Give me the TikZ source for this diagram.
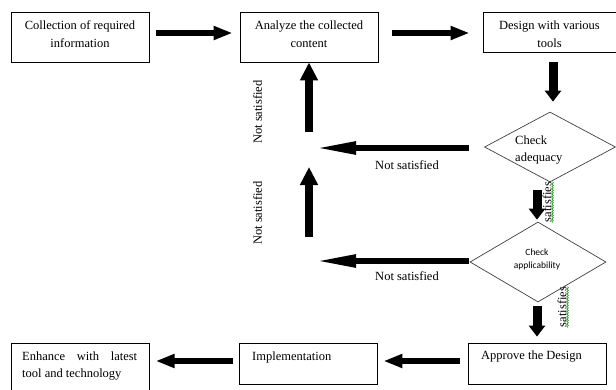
\documentclass[tikz,border=0pt]{standalone}
\usepackage{fontspec}
\setmainfont{Liberation Serif}
\newfontfamily\calib{Carlito}
\usetikzlibrary{arrows.meta,shapes.geometric,calc,decorations.pathmorphing}
\tikzset{
  boxnode/.style={draw=black, line width=0.8pt, rectangle, inner sep=0pt},
  decnode/.style={draw=black!75, line width=0.7pt, diamond, inner sep=0pt},
  txt/.style={inner sep=0pt, font=\fontsize{12.5}{17.5}\selectfont, align=center},
  txtl/.style={inner sep=0pt, font=\fontsize{12.5}{17.5}\selectfont, align=left, anchor=west},
  smalltxt/.style={inner sep=0pt, font=\calib\fontsize{9.5}{13}\selectfont, align=center},
  harrow/.style={line width=6pt, -{Triangle[length=19pt,width=13pt]}},
  longarrow/.style={line width=5.5pt, -{Triangle[length=40pt,width=12pt]}},
  uparrow/.style={line width=8.5pt, -{Triangle[length=18pt,width=17pt]}},
  downarrow/.style={line width=9pt, -{Triangle[length=11pt,width=16pt]}},
  wavy/.style={green!60!black, line width=0.5pt, decorate, decoration={snake, amplitude=0.8pt, segment length=2.5pt}}
}
\begin{document}
\begin{tikzpicture}[x=1pt,y=-1pt]
\useasboundingbox (0,0) rectangle (616,389);
\fill[white] (0,0) rectangle (616,389);
% boxes
\node[boxnode, minimum width=138pt, minimum height=50pt] (b1) at (80,37) {};
\node[boxnode, minimum width=138pt, minimum height=50pt] (b2) at (309,37) {};
\node[boxnode, minimum width=133pt, minimum height=40pt] (b3) at (549.5,32) {};
\node[decnode, minimum width=131pt, minimum height=70pt] (d1) at (550,147) {};
\node[decnode, minimum width=136pt, minimum height=80pt] (d2) at (538,262) {};
\node[boxnode, minimum width=138pt, minimum height=41pt] (ap) at (537,363.5) {};
\node[boxnode, minimum width=138pt, minimum height=41pt] (im) at (308,363.5) {};
\node[boxnode, minimum width=138pt, minimum height=50pt] (en) at (80,368) {};
% texts
\node[txt] (t1) at (80,34) {Collection of required\\information};
\node[txt] (t2) at (309,34) {Analyze the collected\\content};
\node[txt] (t3) at (549.5,34) {Design with various\\tools};
\node[txtl] (t4) at (515,150) {Check\\adequacy};
\node[smalltxt] (t5) at (537,259) {Check\\applicability};
\node[txtl] (t6) at (481,357) {Approve the Design};
\node[txtl] (t7) at (252,357) {Implementation};
\node[txtl] (t8) at (22,366) {\makebox[115pt][s]{Enhance with latest}\\tool and technology};
% labels
\node[txt] (n1) at (407,165) {Not satisfied};
\node[txt] (n2) at (407,276) {Not satisfied};
\node[txt, rotate=90] (n3) at (257.5,112) {Not satisfied};
\node[txt, rotate=90] (n4) at (257.5,213) {Not satisfied};
\node[txt, rotate=90] (s1) at (547,202) {satisfies};
\node[txt, rotate=90] (s2) at (562,307) {satisfies};
\draw[wavy] ($(s1.south west)+(1,0)$) -- ($(s1.south east)+(1,0)$);
\draw[wavy] ($(s2.south west)+(1,0)$) -- ($(s2.south east)+(1,0)$);
% free ends
\coordinate (l1) at (316,148);
\coordinate (l2) at (316,261);
\coordinate (u1) at (309,132);
\coordinate (u2) at (309,237);
\coordinate (u2e) at (309,167);
% connectors
\draw[harrow] ($(b1.east)+(7,-4)$) -- ($(b2.west)+(-7,-4)$);
\draw[harrow] ($(b2.east)+(14,-4)$) -- ($(b3.west)+(-13,1)$);
\draw[downarrow] ($(b3.south)+(3.5,10)$) -- ($(d1.north)+(3,-10)$);
\draw[longarrow] ($(d1.west)+(-15,1)$) -- (l1);
\draw[uparrow] (u1) -- (b2.south);
\draw[downarrow] ($(d1.south)+(-13,8)$) -- ($(d2.north)+(-1,-2)$);
\draw[longarrow] ($(d2.west)+(-1,-1)$) -- (l2);
\draw[uparrow] (u2) -- (u2e);
\draw[downarrow] ($(d2.south)+(-1,4)$) -- ($(ap.north)+(0,-6)$);
\draw[harrow] ($(ap.west)+(-8,-2.5)$) -- ($(im.east)+(6,-2.5)$);
\draw[harrow] ($(im.west)+(-6,-2.5)$) -- ($(en.west)+(145,-7)$);
\end{tikzpicture}
\end{document}
